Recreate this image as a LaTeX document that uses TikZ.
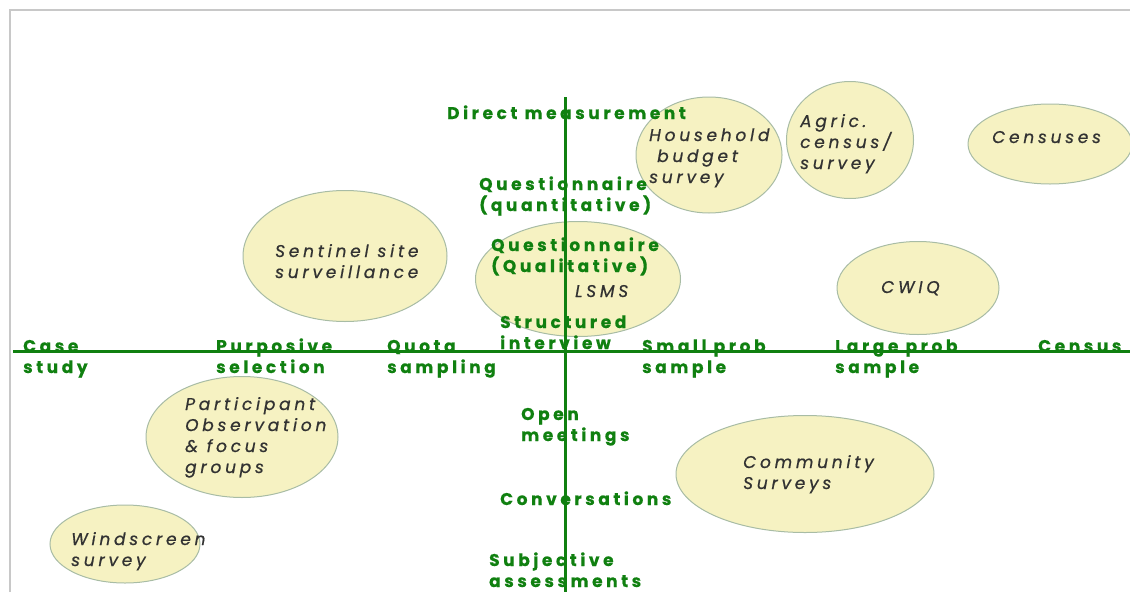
\documentclass[tikz,border=0pt]{standalone}
\usepackage{fontspec}
\usetikzlibrary{shapes.geometric}
\newfontfamily\gfont[LetterSpace=21, BoldFeatures={FakeBold=0.5}]{Poppins}
\newfontfamily\efont[LetterSpace=22, ItalicFeatures={FakeBold=0.7}]{Poppins}
\definecolor{axisgreen}{RGB}{16,128,16}
\definecolor{ellfill}{RGB}{246,242,194}
\definecolor{elldraw}{RGB}{168,188,165}
\definecolor{etext}{RGB}{50,50,50}
\definecolor{framegray}{RGB}{200,200,200}
\newcommand{\ml}[1]{\vtop{\baselineskip=21pt\lineskiplimit=-100pt\halign{##\hfil\cr#1\crcr}}}
\tikzset{
  ell/.style={ellipse, draw=elldraw, fill=ellfill, line width=1pt, inner sep=0pt},
  gtxt/.style={text=axisgreen, font=\gfont\bfseries\fontsize{17}{21}\selectfont, inner sep=0pt, anchor=base west},
  etxt/.style={text=etext, font=\efont\itshape\fontsize{17}{21}\selectfont, inner sep=0pt, anchor=base west},
  axisline/.style={draw=axisgreen, line width=3pt},
  framebox/.style={draw=framegray, line width=1.5pt}
}
\begin{document}
\begin{tikzpicture}[x=1pt,y=-1pt]
\useasboundingbox (0,0) rectangle (1130,592);
% frame
\coordinate (fbl) at (10,592);
\coordinate (ftl) at (10,10);
\coordinate (ftr) at (1130,10);
\draw[framebox] (fbl) -- (ftl) -- (ftr);
% ellipses
\node[ell, minimum width=146pt, minimum height=116pt] (hbs) at (709,155) {};
\node[ell, minimum width=127pt, minimum height=117pt] (agr) at (850,140) {};
\node[ell, minimum width=164pt, minimum height=80pt] (cen) at (1050,144) {};
\node[ell, minimum width=162pt, minimum height=93pt] (cwiq) at (918,288) {};
\node[ell, minimum width=204pt, minimum height=131pt] (sen) at (345,256) {};
\node[ell, minimum width=205pt, minimum height=115pt] (lsms) at (578,279) {};
\node[ell, minimum width=192pt, minimum height=121pt] (par) at (242,437) {};
\node[ell, minimum width=150pt, minimum height=78pt] (win) at (125,544) {};
\node[ell, minimum width=258pt, minimum height=117pt] (com) at (805,474) {};
% ellipse texts
\node[etxt] (thbs) at (649,141) {\ml{Household\cr\hspace{8pt}budget\cr survey}};
\node[etxt] (tagr) at (800,127) {\ml{Agric.\cr census/\cr survey}};
\node[etxt] (tcen) at (992,143) {Censuses};
\node[etxt] (tcwiq) at (881,293) {CWIQ};
\node[etxt] (tsen) at (275,257) {\ml{Sentinel site\cr surveillance}};
\node[etxt] (tlsms) at (575,297) {LSMS};
\node[etxt] (tpar) at (185,410) {\ml{Participant\cr Observation\cr \& focus\cr groups}};
\node[etxt] (twin) at (71,545) {\ml{Windscreen\cr survey}};
\node[etxt] (tcom) at (743,468) {\ml{Community\cr Surveys}};
% green labels
\node[gtxt] (ldm) at (447,119) {Direct measurement};
\node[gtxt] (lqn) at (479,190) {\ml{Questionnaire\cr (quantitative)}};
\node[gtxt] (lql) at (491,251) {\ml{Questionnaire\cr (Qualitative)}};
\node[gtxt] (lsi) at (500,328) {\ml{Structured\cr interview}};
\node[gtxt] (lcs) at (23,352) {\ml{Case\cr study}};
\node[gtxt] (lps) at (216,352) {\ml{Purposive\cr selection}};
\node[gtxt] (lqs) at (387,352) {\ml{Quota\cr sampling}};
\node[gtxt] (lsp) at (642,352) {\ml{Small prob\cr sample}};
\node[gtxt] (llp) at (835,352) {\ml{Large prob\cr sample}};
\node[gtxt] (lce) at (1038,352) {Census};
\node[gtxt] (lom) at (521,420) {\ml{Open\cr meetings}};
\node[gtxt] (lcv) at (500,505) {Conversations};
\node[gtxt] (lsa) at (489,566) {\ml{Subjective\cr assessments}};
% axes
\coordinate (xl) at (13,351);
\coordinate (xr) at (1130,351);
\coordinate (yt) at (565,97);
\coordinate (yb) at (565,592);
\draw[axisline] (xl) -- (xr);
\draw[axisline] (yt) -- (yb);
\end{tikzpicture}
\end{document}
